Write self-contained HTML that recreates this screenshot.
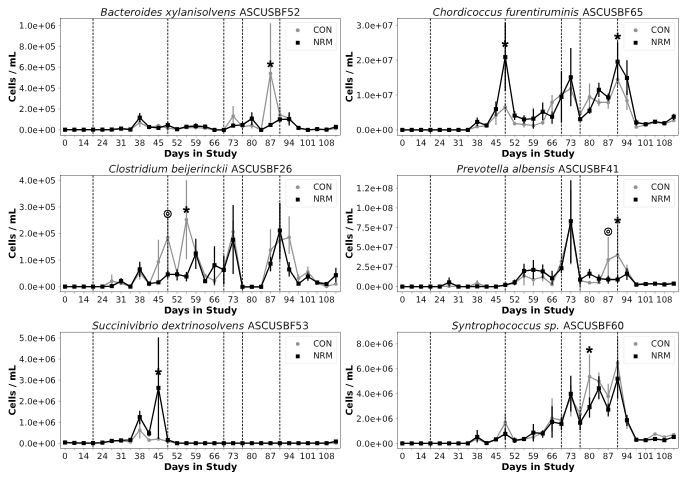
<!DOCTYPE html>
<html lang="en">
<head>
<meta charset="utf-8">
<title>Cells / mL by Days in Study</title>
<style>
html,body{margin:0;padding:0;background:#fff;}
body{width:685px;height:478px;overflow:hidden;}
svg{display:block;text-rendering:geometricPrecision;font-family:"DejaVu Sans","Liberation Sans",sans-serif;}
.vl{stroke:#000;stroke-width:.85;stroke-dasharray:2.3 1.23;}
.ge{stroke:#939393;stroke-width:1.25;}
.be{stroke:#000;stroke-width:1.25;}
.gl{fill:none;stroke:#939393;stroke-width:1.25;stroke-linejoin:round;}
.bl{fill:none;stroke:#000;stroke-width:1.3;stroke-linejoin:round;}
.gm{fill:#939393;}
.bm{fill:#000;}
.fr{fill:none;stroke:#222;stroke-width:.42;}
.tk{stroke:#333;stroke-width:.32;}
.xt{font-size:8.5px;text-anchor:middle;fill:#111;}
.yt{font-size:8.5px;text-anchor:end;fill:#111;}
.ti{font-size:10.3px;text-anchor:middle;fill:#111;}
.it{font-style:italic;font-size:10.4px;}
.xl{font-size:9.45px;font-weight:bold;text-anchor:middle;fill:#000;}
.yl{font-size:9.3px;font-weight:bold;text-anchor:middle;fill:#000;}
.lg{fill:#fff;fill-opacity:.8;stroke:#e2e2e2;stroke-opacity:.9;stroke-width:.6;}
.lt{font-size:8.5px;fill:#111;}
.st{font-family:"Liberation Sans",sans-serif;font-size:18.4px;font-weight:bold;text-anchor:middle;fill:#000;}
.bu{font-size:10.2px;text-anchor:middle;fill:#000;stroke:#000;stroke-width:.38;}
</style>
</head>
<body>
<svg width="685" height="478" viewBox="0 0 685 478">
<rect x="0" y="0" width="685" height="478" fill="#fff"/>
<g>
<line x1="139.75" y1="118.8" x2="139.75" y2="127" class="ge"/>
<line x1="158.43" y1="123.9" x2="158.43" y2="129.5" class="ge"/>
<line x1="167.77" y1="125.7" x2="167.77" y2="130.5" class="ge"/>
<line x1="233.15" y1="106" x2="233.15" y2="127.4" class="ge"/>
<line x1="251.83" y1="122.4" x2="251.83" y2="128.6" class="ge"/>
<line x1="270.5" y1="23.3" x2="270.5" y2="122.4" class="ge"/>
<line x1="279.84" y1="107.3" x2="279.84" y2="122.4" class="ge"/>
<line x1="289.18" y1="113" x2="289.18" y2="123" class="ge"/>
<polyline class="gl" points="65.04,129.8 74.38,129.8 83.72,129.8 93.06,129.8 102.4,129.8 111.74,129.8 121.08,129 130.41,129.7 139.75,122.6 149.09,127.5 158.43,125.7 167.77,128.2 177.11,129.3 186.45,127.4 195.79,127.6 205.13,128.2 214.47,129.9 223.81,129.9 233.15,116.1 242.49,126.6 251.83,125.4 261.17,129.9 270.5,73.4 279.84,114.8 289.18,118.1 298.52,128.2 307.86,129.9 317.2,129.3 326.54,129.7 335.88,128.6"/>
<circle cx="65.04" cy="129.8" r="1.85" class="gm"/>
<circle cx="74.38" cy="129.8" r="1.85" class="gm"/>
<circle cx="83.72" cy="129.8" r="1.85" class="gm"/>
<circle cx="93.06" cy="129.8" r="1.85" class="gm"/>
<circle cx="102.4" cy="129.8" r="1.85" class="gm"/>
<circle cx="111.74" cy="129.8" r="1.85" class="gm"/>
<circle cx="121.08" cy="129" r="1.85" class="gm"/>
<circle cx="130.41" cy="129.7" r="1.85" class="gm"/>
<circle cx="139.75" cy="122.6" r="1.85" class="gm"/>
<circle cx="149.09" cy="127.5" r="1.85" class="gm"/>
<circle cx="158.43" cy="125.7" r="1.85" class="gm"/>
<circle cx="167.77" cy="128.2" r="1.85" class="gm"/>
<circle cx="177.11" cy="129.3" r="1.85" class="gm"/>
<circle cx="186.45" cy="127.4" r="1.85" class="gm"/>
<circle cx="195.79" cy="127.6" r="1.85" class="gm"/>
<circle cx="205.13" cy="128.2" r="1.85" class="gm"/>
<circle cx="214.47" cy="129.9" r="1.85" class="gm"/>
<circle cx="223.81" cy="129.9" r="1.85" class="gm"/>
<circle cx="233.15" cy="116.1" r="1.85" class="gm"/>
<circle cx="242.49" cy="126.6" r="1.85" class="gm"/>
<circle cx="251.83" cy="125.4" r="1.85" class="gm"/>
<circle cx="261.17" cy="129.9" r="1.85" class="gm"/>
<circle cx="270.5" cy="73.4" r="1.85" class="gm"/>
<circle cx="279.84" cy="114.8" r="1.85" class="gm"/>
<circle cx="289.18" cy="118.1" r="1.85" class="gm"/>
<circle cx="298.52" cy="128.2" r="1.85" class="gm"/>
<circle cx="307.86" cy="129.9" r="1.85" class="gm"/>
<circle cx="317.2" cy="129.3" r="1.85" class="gm"/>
<circle cx="326.54" cy="129.7" r="1.85" class="gm"/>
<circle cx="335.88" cy="128.6" r="1.85" class="gm"/>
<line x1="93.06" y1="18.55" x2="93.06" y2="135.25" class="vl"/>
<line x1="167.77" y1="18.55" x2="167.77" y2="135.25" class="vl"/>
<line x1="223.81" y1="18.55" x2="223.81" y2="135.25" class="vl"/>
<line x1="242.49" y1="18.55" x2="242.49" y2="135.25" class="vl"/>
<line x1="279.84" y1="18.55" x2="279.84" y2="135.25" class="vl"/>
<line x1="139.75" y1="112.9" x2="139.75" y2="122" class="be"/>
<line x1="167.77" y1="122.6" x2="167.77" y2="128.2" class="be"/>
<line x1="195.79" y1="123.2" x2="195.79" y2="128.6" class="be"/>
<line x1="251.83" y1="112.3" x2="251.83" y2="124.9" class="be"/>
<line x1="289.18" y1="112.3" x2="289.18" y2="125.4" class="be"/>
<polyline class="bl" points="65.04,129.7 74.38,129.7 83.72,129.7 93.06,129.6 102.4,129.6 111.74,129.5 121.08,128.6 130.41,129.5 139.75,117.6 149.09,127 158.43,127.9 167.77,125.1 177.11,129.2 186.45,126.7 195.79,126 205.13,126.6 214.47,129.9 223.81,129.9 233.15,125.6 242.49,124.9 251.83,118.6 261.17,129.9 270.5,124.9 279.84,119.4 289.18,119.1 298.52,127.9 307.86,129.9 317.2,129.1 326.54,129.6 335.88,126.9"/>
<rect x="62.99" y="127.65" width="4.1" height="4.1" class="bm"/>
<rect x="72.33" y="127.65" width="4.1" height="4.1" class="bm"/>
<rect x="81.67" y="127.65" width="4.1" height="4.1" class="bm"/>
<rect x="91.01" y="127.55" width="4.1" height="4.1" class="bm"/>
<rect x="100.35" y="127.55" width="4.1" height="4.1" class="bm"/>
<rect x="109.69" y="127.45" width="4.1" height="4.1" class="bm"/>
<rect x="119.03" y="126.55" width="4.1" height="4.1" class="bm"/>
<rect x="128.36" y="127.45" width="4.1" height="4.1" class="bm"/>
<rect x="137.7" y="115.55" width="4.1" height="4.1" class="bm"/>
<rect x="147.04" y="124.95" width="4.1" height="4.1" class="bm"/>
<rect x="156.38" y="125.85" width="4.1" height="4.1" class="bm"/>
<rect x="165.72" y="123.05" width="4.1" height="4.1" class="bm"/>
<rect x="175.06" y="127.15" width="4.1" height="4.1" class="bm"/>
<rect x="184.4" y="124.65" width="4.1" height="4.1" class="bm"/>
<rect x="193.74" y="123.95" width="4.1" height="4.1" class="bm"/>
<rect x="203.08" y="124.55" width="4.1" height="4.1" class="bm"/>
<rect x="212.42" y="127.85" width="4.1" height="4.1" class="bm"/>
<rect x="221.76" y="127.85" width="4.1" height="4.1" class="bm"/>
<rect x="231.1" y="123.55" width="4.1" height="4.1" class="bm"/>
<rect x="240.44" y="122.85" width="4.1" height="4.1" class="bm"/>
<rect x="249.78" y="116.55" width="4.1" height="4.1" class="bm"/>
<rect x="259.12" y="127.85" width="4.1" height="4.1" class="bm"/>
<rect x="268.45" y="122.85" width="4.1" height="4.1" class="bm"/>
<rect x="277.79" y="117.35" width="4.1" height="4.1" class="bm"/>
<rect x="287.13" y="117.05" width="4.1" height="4.1" class="bm"/>
<rect x="296.47" y="125.85" width="4.1" height="4.1" class="bm"/>
<rect x="305.81" y="127.85" width="4.1" height="4.1" class="bm"/>
<rect x="315.15" y="127.05" width="4.1" height="4.1" class="bm"/>
<rect x="324.49" y="127.55" width="4.1" height="4.1" class="bm"/>
<rect x="333.83" y="124.85" width="4.1" height="4.1" class="bm"/>
<rect x="60.37" y="18.55" width="280.18" height="116.7" class="fr"/>
<line x1="65.04" y1="135.25" x2="65.04" y2="137.15" class="tk"/>
<line x1="74.38" y1="135.25" x2="74.38" y2="137.15" class="tk"/>
<line x1="83.72" y1="135.25" x2="83.72" y2="137.15" class="tk"/>
<line x1="93.06" y1="135.25" x2="93.06" y2="137.15" class="tk"/>
<line x1="102.4" y1="135.25" x2="102.4" y2="137.15" class="tk"/>
<line x1="111.74" y1="135.25" x2="111.74" y2="137.15" class="tk"/>
<line x1="121.08" y1="135.25" x2="121.08" y2="137.15" class="tk"/>
<line x1="130.41" y1="135.25" x2="130.41" y2="137.15" class="tk"/>
<line x1="139.75" y1="135.25" x2="139.75" y2="137.15" class="tk"/>
<line x1="149.09" y1="135.25" x2="149.09" y2="137.15" class="tk"/>
<line x1="158.43" y1="135.25" x2="158.43" y2="137.15" class="tk"/>
<line x1="167.77" y1="135.25" x2="167.77" y2="137.15" class="tk"/>
<line x1="177.11" y1="135.25" x2="177.11" y2="137.15" class="tk"/>
<line x1="186.45" y1="135.25" x2="186.45" y2="137.15" class="tk"/>
<line x1="195.79" y1="135.25" x2="195.79" y2="137.15" class="tk"/>
<line x1="205.13" y1="135.25" x2="205.13" y2="137.15" class="tk"/>
<line x1="214.47" y1="135.25" x2="214.47" y2="137.15" class="tk"/>
<line x1="223.81" y1="135.25" x2="223.81" y2="137.15" class="tk"/>
<line x1="233.15" y1="135.25" x2="233.15" y2="137.15" class="tk"/>
<line x1="242.49" y1="135.25" x2="242.49" y2="137.15" class="tk"/>
<line x1="251.83" y1="135.25" x2="251.83" y2="137.15" class="tk"/>
<line x1="261.17" y1="135.25" x2="261.17" y2="137.15" class="tk"/>
<line x1="270.5" y1="135.25" x2="270.5" y2="137.15" class="tk"/>
<line x1="279.84" y1="135.25" x2="279.84" y2="137.15" class="tk"/>
<line x1="289.18" y1="135.25" x2="289.18" y2="137.15" class="tk"/>
<line x1="298.52" y1="135.25" x2="298.52" y2="137.15" class="tk"/>
<line x1="307.86" y1="135.25" x2="307.86" y2="137.15" class="tk"/>
<line x1="317.2" y1="135.25" x2="317.2" y2="137.15" class="tk"/>
<line x1="326.54" y1="135.25" x2="326.54" y2="137.15" class="tk"/>
<line x1="335.88" y1="135.25" x2="335.88" y2="137.15" class="tk"/>
<text transform="translate(65.04,145.85) skewY(.04)" class="xt">0</text>
<text transform="translate(83.72,145.85) skewY(.04)" class="xt">14</text>
<text transform="translate(102.4,145.85) skewY(.04)" class="xt">24</text>
<text transform="translate(121.08,145.85) skewY(.04)" class="xt">31</text>
<text transform="translate(139.75,145.85) skewY(.04)" class="xt">38</text>
<text transform="translate(158.43,145.85) skewY(.04)" class="xt">45</text>
<text transform="translate(177.11,145.85) skewY(.04)" class="xt">52</text>
<text transform="translate(195.79,145.85) skewY(.04)" class="xt">59</text>
<text transform="translate(214.47,145.85) skewY(.04)" class="xt">66</text>
<text transform="translate(233.15,145.85) skewY(.04)" class="xt">73</text>
<text transform="translate(251.83,145.85) skewY(.04)" class="xt">80</text>
<text transform="translate(270.5,145.85) skewY(.04)" class="xt">87</text>
<text transform="translate(289.18,145.85) skewY(.04)" class="xt">94</text>
<text transform="translate(307.86,145.85) skewY(.04)" class="xt">101</text>
<text transform="translate(326.54,145.85) skewY(.04)" class="xt">108</text>
<line x1="58.47" y1="129.8" x2="60.37" y2="129.8" class="tk"/>
<text transform="translate(55.77,132.95) skewY(.04)" class="yt">0.0e+00</text>
<line x1="58.47" y1="108.94" x2="60.37" y2="108.94" class="tk"/>
<text transform="translate(55.77,112.09) skewY(.04)" class="yt">2.0e+05</text>
<line x1="58.47" y1="88.08" x2="60.37" y2="88.08" class="tk"/>
<text transform="translate(55.77,91.23) skewY(.04)" class="yt">4.0e+05</text>
<line x1="58.47" y1="67.22" x2="60.37" y2="67.22" class="tk"/>
<text transform="translate(55.77,70.37) skewY(.04)" class="yt">6.0e+05</text>
<line x1="58.47" y1="46.36" x2="60.37" y2="46.36" class="tk"/>
<text transform="translate(55.77,49.51) skewY(.04)" class="yt">8.0e+05</text>
<line x1="58.47" y1="25.5" x2="60.37" y2="25.5" class="tk"/>
<text transform="translate(55.77,28.65) skewY(.04)" class="yt">1.0e+06</text>
<text transform="translate(200.46,15.7) skewY(.04)" class="ti"><tspan class="it">Bacteroides xylanisolvens</tspan> <tspan dx="0.4">ASCUSBF52</tspan></text>
<text transform="translate(200.46,156.85) skewY(.04)" class="xl">Days in Study</text>
<text transform="translate(15.6,76.9) rotate(-90) skewY(.04)" class="yl">Cells / mL</text>
<rect x="285.95" y="22.65" width="50.8" height="27.6" rx="1.6" class="lg"/>
<circle cx="297.75" cy="30.3" r="1.95" class="gm"/>
<rect x="295.8" y="40.8" width="3.9" height="3.9" class="bm"/>
<text transform="translate(313.15,32.8) skewY(.04)" class="lt">CON</text>
<text transform="translate(313.15,45) skewY(.04)" class="lt">NRM</text>
<text transform="translate(270.4,73.3) skewY(.04)" class="st">*</text>
</g>
<g>
<line x1="495.93" y1="108.6" x2="495.93" y2="124.9" class="ge"/>
<line x1="505.28" y1="103.6" x2="505.28" y2="111.1" class="ge"/>
<line x1="524" y1="121.1" x2="524" y2="127.4" class="ge"/>
<line x1="533.36" y1="122.5" x2="533.36" y2="128.8" class="ge"/>
<line x1="542.72" y1="118.7" x2="542.72" y2="125" class="ge"/>
<line x1="552.08" y1="94.9" x2="552.08" y2="111.2" class="ge"/>
<line x1="570.8" y1="81" x2="570.8" y2="96" class="ge"/>
<line x1="589.51" y1="83.5" x2="589.51" y2="109.9" class="ge"/>
<line x1="598.87" y1="98.6" x2="598.87" y2="106.2" class="ge"/>
<line x1="608.23" y1="96.1" x2="608.23" y2="108.7" class="ge"/>
<line x1="617.59" y1="73.5" x2="617.59" y2="86" class="ge"/>
<line x1="626.95" y1="91.1" x2="626.95" y2="109.9" class="ge"/>
<polyline class="gl" points="402.34,129.9 411.7,129.9 421.06,129.9 430.42,129.9 439.77,129.9 449.13,129.9 458.49,129.9 467.85,129.9 477.21,126.6 486.57,125.9 495.93,115.3 505.28,107.3 514.64,123.6 524,124.4 533.36,125.5 542.72,122.5 552.08,102.4 561.44,94.3 570.8,88.6 580.15,113.7 589.51,96.9 598.87,102.4 608.23,102.4 617.59,79.3 626.95,100.6 636.31,127 645.66,125 655.02,122.5 664.38,123.7 673.74,120.5"/>
<circle cx="402.34" cy="129.9" r="1.85" class="gm"/>
<circle cx="411.7" cy="129.9" r="1.85" class="gm"/>
<circle cx="421.06" cy="129.9" r="1.85" class="gm"/>
<circle cx="430.42" cy="129.9" r="1.85" class="gm"/>
<circle cx="439.77" cy="129.9" r="1.85" class="gm"/>
<circle cx="449.13" cy="129.9" r="1.85" class="gm"/>
<circle cx="458.49" cy="129.9" r="1.85" class="gm"/>
<circle cx="467.85" cy="129.9" r="1.85" class="gm"/>
<circle cx="477.21" cy="126.6" r="1.85" class="gm"/>
<circle cx="486.57" cy="125.9" r="1.85" class="gm"/>
<circle cx="495.93" cy="115.3" r="1.85" class="gm"/>
<circle cx="505.28" cy="107.3" r="1.85" class="gm"/>
<circle cx="514.64" cy="123.6" r="1.85" class="gm"/>
<circle cx="524" cy="124.4" r="1.85" class="gm"/>
<circle cx="533.36" cy="125.5" r="1.85" class="gm"/>
<circle cx="542.72" cy="122.5" r="1.85" class="gm"/>
<circle cx="552.08" cy="102.4" r="1.85" class="gm"/>
<circle cx="561.44" cy="94.3" r="1.85" class="gm"/>
<circle cx="570.8" cy="88.6" r="1.85" class="gm"/>
<circle cx="580.15" cy="113.7" r="1.85" class="gm"/>
<circle cx="589.51" cy="96.9" r="1.85" class="gm"/>
<circle cx="598.87" cy="102.4" r="1.85" class="gm"/>
<circle cx="608.23" cy="102.4" r="1.85" class="gm"/>
<circle cx="617.59" cy="79.3" r="1.85" class="gm"/>
<circle cx="626.95" cy="100.6" r="1.85" class="gm"/>
<circle cx="636.31" cy="127" r="1.85" class="gm"/>
<circle cx="645.66" cy="125" r="1.85" class="gm"/>
<circle cx="655.02" cy="122.5" r="1.85" class="gm"/>
<circle cx="664.38" cy="123.7" r="1.85" class="gm"/>
<circle cx="673.74" cy="120.5" r="1.85" class="gm"/>
<line x1="430.42" y1="18.55" x2="430.42" y2="135.25" class="vl"/>
<line x1="505.28" y1="18.55" x2="505.28" y2="135.25" class="vl"/>
<line x1="561.44" y1="18.55" x2="561.44" y2="135.25" class="vl"/>
<line x1="580.15" y1="18.55" x2="580.15" y2="135.25" class="vl"/>
<line x1="617.59" y1="18.55" x2="617.59" y2="135.25" class="vl"/>
<line x1="477.21" y1="117.4" x2="477.21" y2="126.1" class="be"/>
<line x1="495.93" y1="101.5" x2="495.93" y2="116.1" class="be"/>
<line x1="505.28" y1="22.5" x2="505.28" y2="91" class="be"/>
<line x1="514.64" y1="111.1" x2="514.64" y2="119.9" class="be"/>
<line x1="524" y1="115.3" x2="524" y2="123.6" class="be"/>
<line x1="533.36" y1="108.6" x2="533.36" y2="128.6" class="be"/>
<line x1="542.72" y1="102.4" x2="542.72" y2="120" class="be"/>
<line x1="552.08" y1="111.2" x2="552.08" y2="123.7" class="be"/>
<line x1="561.44" y1="71" x2="561.44" y2="122.5" class="be"/>
<line x1="570.8" y1="47.9" x2="570.8" y2="106.2" class="be"/>
<line x1="589.51" y1="107.4" x2="589.51" y2="113.7" class="be"/>
<line x1="598.87" y1="82.8" x2="598.87" y2="96.9" class="be"/>
<line x1="608.23" y1="93.6" x2="608.23" y2="101.1" class="be"/>
<line x1="617.59" y1="42.1" x2="617.59" y2="81" class="be"/>
<line x1="626.95" y1="60.2" x2="626.95" y2="94.9" class="be"/>
<line x1="636.31" y1="119.5" x2="636.31" y2="125.5" class="be"/>
<line x1="673.74" y1="113.7" x2="673.74" y2="120" class="be"/>
<polyline class="bl" points="402.34,129.9 411.7,129.9 421.06,129.9 430.42,129.9 439.77,129.9 449.13,129.9 458.49,129.9 467.85,129.9 477.21,121.9 486.57,125.4 495.93,109.1 505.28,57.1 514.64,115.6 524,119.4 533.36,118.7 542.72,111.7 552.08,116.7 561.44,96.9 570.8,77.3 580.15,119.2 589.51,110.7 598.87,89.8 608.23,97.4 617.59,61.7 626.95,78 636.31,122.5 645.66,124.2 655.02,121.7 664.38,123.2 673.74,116.7"/>
<rect x="400.29" y="127.85" width="4.1" height="4.1" class="bm"/>
<rect x="409.65" y="127.85" width="4.1" height="4.1" class="bm"/>
<rect x="419.01" y="127.85" width="4.1" height="4.1" class="bm"/>
<rect x="428.37" y="127.85" width="4.1" height="4.1" class="bm"/>
<rect x="437.72" y="127.85" width="4.1" height="4.1" class="bm"/>
<rect x="447.08" y="127.85" width="4.1" height="4.1" class="bm"/>
<rect x="456.44" y="127.85" width="4.1" height="4.1" class="bm"/>
<rect x="465.8" y="127.85" width="4.1" height="4.1" class="bm"/>
<rect x="475.16" y="119.85" width="4.1" height="4.1" class="bm"/>
<rect x="484.52" y="123.35" width="4.1" height="4.1" class="bm"/>
<rect x="493.88" y="107.05" width="4.1" height="4.1" class="bm"/>
<rect x="503.23" y="55.05" width="4.1" height="4.1" class="bm"/>
<rect x="512.59" y="113.55" width="4.1" height="4.1" class="bm"/>
<rect x="521.95" y="117.35" width="4.1" height="4.1" class="bm"/>
<rect x="531.31" y="116.65" width="4.1" height="4.1" class="bm"/>
<rect x="540.67" y="109.65" width="4.1" height="4.1" class="bm"/>
<rect x="550.03" y="114.65" width="4.1" height="4.1" class="bm"/>
<rect x="559.39" y="94.85" width="4.1" height="4.1" class="bm"/>
<rect x="568.75" y="75.25" width="4.1" height="4.1" class="bm"/>
<rect x="578.1" y="117.15" width="4.1" height="4.1" class="bm"/>
<rect x="587.46" y="108.65" width="4.1" height="4.1" class="bm"/>
<rect x="596.82" y="87.75" width="4.1" height="4.1" class="bm"/>
<rect x="606.18" y="95.35" width="4.1" height="4.1" class="bm"/>
<rect x="615.54" y="59.65" width="4.1" height="4.1" class="bm"/>
<rect x="624.9" y="75.95" width="4.1" height="4.1" class="bm"/>
<rect x="634.26" y="120.45" width="4.1" height="4.1" class="bm"/>
<rect x="643.61" y="122.15" width="4.1" height="4.1" class="bm"/>
<rect x="652.97" y="119.65" width="4.1" height="4.1" class="bm"/>
<rect x="662.33" y="121.15" width="4.1" height="4.1" class="bm"/>
<rect x="671.69" y="114.65" width="4.1" height="4.1" class="bm"/>
<rect x="397.66" y="18.55" width="280.76" height="116.7" class="fr"/>
<line x1="402.34" y1="135.25" x2="402.34" y2="137.15" class="tk"/>
<line x1="411.7" y1="135.25" x2="411.7" y2="137.15" class="tk"/>
<line x1="421.06" y1="135.25" x2="421.06" y2="137.15" class="tk"/>
<line x1="430.42" y1="135.25" x2="430.42" y2="137.15" class="tk"/>
<line x1="439.77" y1="135.25" x2="439.77" y2="137.15" class="tk"/>
<line x1="449.13" y1="135.25" x2="449.13" y2="137.15" class="tk"/>
<line x1="458.49" y1="135.25" x2="458.49" y2="137.15" class="tk"/>
<line x1="467.85" y1="135.25" x2="467.85" y2="137.15" class="tk"/>
<line x1="477.21" y1="135.25" x2="477.21" y2="137.15" class="tk"/>
<line x1="486.57" y1="135.25" x2="486.57" y2="137.15" class="tk"/>
<line x1="495.93" y1="135.25" x2="495.93" y2="137.15" class="tk"/>
<line x1="505.28" y1="135.25" x2="505.28" y2="137.15" class="tk"/>
<line x1="514.64" y1="135.25" x2="514.64" y2="137.15" class="tk"/>
<line x1="524" y1="135.25" x2="524" y2="137.15" class="tk"/>
<line x1="533.36" y1="135.25" x2="533.36" y2="137.15" class="tk"/>
<line x1="542.72" y1="135.25" x2="542.72" y2="137.15" class="tk"/>
<line x1="552.08" y1="135.25" x2="552.08" y2="137.15" class="tk"/>
<line x1="561.44" y1="135.25" x2="561.44" y2="137.15" class="tk"/>
<line x1="570.8" y1="135.25" x2="570.8" y2="137.15" class="tk"/>
<line x1="580.15" y1="135.25" x2="580.15" y2="137.15" class="tk"/>
<line x1="589.51" y1="135.25" x2="589.51" y2="137.15" class="tk"/>
<line x1="598.87" y1="135.25" x2="598.87" y2="137.15" class="tk"/>
<line x1="608.23" y1="135.25" x2="608.23" y2="137.15" class="tk"/>
<line x1="617.59" y1="135.25" x2="617.59" y2="137.15" class="tk"/>
<line x1="626.95" y1="135.25" x2="626.95" y2="137.15" class="tk"/>
<line x1="636.31" y1="135.25" x2="636.31" y2="137.15" class="tk"/>
<line x1="645.66" y1="135.25" x2="645.66" y2="137.15" class="tk"/>
<line x1="655.02" y1="135.25" x2="655.02" y2="137.15" class="tk"/>
<line x1="664.38" y1="135.25" x2="664.38" y2="137.15" class="tk"/>
<line x1="673.74" y1="135.25" x2="673.74" y2="137.15" class="tk"/>
<text transform="translate(402.34,145.85) skewY(.04)" class="xt">0</text>
<text transform="translate(421.06,145.85) skewY(.04)" class="xt">14</text>
<text transform="translate(439.77,145.85) skewY(.04)" class="xt">24</text>
<text transform="translate(458.49,145.85) skewY(.04)" class="xt">31</text>
<text transform="translate(477.21,145.85) skewY(.04)" class="xt">38</text>
<text transform="translate(495.93,145.85) skewY(.04)" class="xt">45</text>
<text transform="translate(514.64,145.85) skewY(.04)" class="xt">52</text>
<text transform="translate(533.36,145.85) skewY(.04)" class="xt">59</text>
<text transform="translate(552.08,145.85) skewY(.04)" class="xt">66</text>
<text transform="translate(570.8,145.85) skewY(.04)" class="xt">73</text>
<text transform="translate(589.51,145.85) skewY(.04)" class="xt">80</text>
<text transform="translate(608.23,145.85) skewY(.04)" class="xt">87</text>
<text transform="translate(626.95,145.85) skewY(.04)" class="xt">94</text>
<text transform="translate(645.66,145.85) skewY(.04)" class="xt">101</text>
<text transform="translate(664.38,145.85) skewY(.04)" class="xt">108</text>
<line x1="395.76" y1="129.9" x2="397.66" y2="129.9" class="tk"/>
<text transform="translate(393.06,133.05) skewY(.04)" class="yt">0.0e+00</text>
<line x1="395.76" y1="95.03" x2="397.66" y2="95.03" class="tk"/>
<text transform="translate(393.06,98.18) skewY(.04)" class="yt">1.0e+07</text>
<line x1="395.76" y1="60.17" x2="397.66" y2="60.17" class="tk"/>
<text transform="translate(393.06,63.32) skewY(.04)" class="yt">2.0e+07</text>
<line x1="395.76" y1="25.3" x2="397.66" y2="25.3" class="tk"/>
<text transform="translate(393.06,28.45) skewY(.04)" class="yt">3.0e+07</text>
<text transform="translate(538.04,15.7) skewY(.04)" class="ti"><tspan class="it">Chordicoccus furentiruminis</tspan> <tspan dx="0.4">ASCUSBF65</tspan></text>
<text transform="translate(538.04,156.85) skewY(.04)" class="xl">Days in Study</text>
<text transform="translate(352.6,76.9) rotate(-90) skewY(.04)" class="yl">Cells / mL</text>
<rect x="623.82" y="22.65" width="50.8" height="27.6" rx="1.6" class="lg"/>
<circle cx="635.62" cy="30.3" r="1.95" class="gm"/>
<rect x="633.67" y="40.8" width="3.9" height="3.9" class="bm"/>
<text transform="translate(651.02,32.8) skewY(.04)" class="lt">CON</text>
<text transform="translate(651.02,45) skewY(.04)" class="lt">NRM</text>
<text transform="translate(505.18,53) skewY(.04)" class="st">*</text>
<text transform="translate(617.49,45.5) skewY(.04)" class="st">*</text>
</g>
<g>
<line x1="111.74" y1="274.4" x2="111.74" y2="285.6" class="ge"/>
<line x1="139.75" y1="264.3" x2="139.75" y2="279.4" class="ge"/>
<line x1="158.43" y1="239.7" x2="158.43" y2="281.9" class="ge"/>
<line x1="167.77" y1="218.5" x2="167.77" y2="272" class="ge"/>
<line x1="186.45" y1="180.3" x2="186.45" y2="259.3" class="ge"/>
<line x1="214.47" y1="277" x2="214.47" y2="285.8" class="ge"/>
<line x1="233.15" y1="220.5" x2="233.15" y2="246.8" class="ge"/>
<line x1="270.5" y1="229.2" x2="270.5" y2="270.7" class="ge"/>
<line x1="279.84" y1="228" x2="279.84" y2="251.9" class="ge"/>
<line x1="289.18" y1="216.2" x2="289.18" y2="254" class="ge"/>
<line x1="298.52" y1="274.4" x2="298.52" y2="282" class="ge"/>
<line x1="307.86" y1="266.4" x2="307.86" y2="278.2" class="ge"/>
<polyline class="gl" points="65.04,286.6 74.38,286.6 83.72,286.6 93.06,286.6 102.4,286.6 111.74,281.1 121.08,283.1 130.41,286.6 139.75,272.3 149.09,284.4 158.43,261.8 167.77,237.5 177.11,273.1 186.45,219.7 195.79,251.9 205.13,275.7 214.47,280.7 223.81,268.9 233.15,231.8 242.49,286.8 251.83,286.8 261.17,286.8 270.5,250.1 279.84,240.5 289.18,237.3 298.52,278.2 307.86,271.9 317.2,283.2 326.54,286.3 335.88,284"/>
<circle cx="65.04" cy="286.6" r="1.85" class="gm"/>
<circle cx="74.38" cy="286.6" r="1.85" class="gm"/>
<circle cx="83.72" cy="286.6" r="1.85" class="gm"/>
<circle cx="93.06" cy="286.6" r="1.85" class="gm"/>
<circle cx="102.4" cy="286.6" r="1.85" class="gm"/>
<circle cx="111.74" cy="281.1" r="1.85" class="gm"/>
<circle cx="121.08" cy="283.1" r="1.85" class="gm"/>
<circle cx="130.41" cy="286.6" r="1.85" class="gm"/>
<circle cx="139.75" cy="272.3" r="1.85" class="gm"/>
<circle cx="149.09" cy="284.4" r="1.85" class="gm"/>
<circle cx="158.43" cy="261.8" r="1.85" class="gm"/>
<circle cx="167.77" cy="237.5" r="1.85" class="gm"/>
<circle cx="177.11" cy="273.1" r="1.85" class="gm"/>
<circle cx="186.45" cy="219.7" r="1.85" class="gm"/>
<circle cx="195.79" cy="251.9" r="1.85" class="gm"/>
<circle cx="205.13" cy="275.7" r="1.85" class="gm"/>
<circle cx="214.47" cy="280.7" r="1.85" class="gm"/>
<circle cx="223.81" cy="268.9" r="1.85" class="gm"/>
<circle cx="233.15" cy="231.8" r="1.85" class="gm"/>
<circle cx="242.49" cy="286.8" r="1.85" class="gm"/>
<circle cx="251.83" cy="286.8" r="1.85" class="gm"/>
<circle cx="261.17" cy="286.8" r="1.85" class="gm"/>
<circle cx="270.5" cy="250.1" r="1.85" class="gm"/>
<circle cx="279.84" cy="240.5" r="1.85" class="gm"/>
<circle cx="289.18" cy="237.3" r="1.85" class="gm"/>
<circle cx="298.52" cy="278.2" r="1.85" class="gm"/>
<circle cx="307.86" cy="271.9" r="1.85" class="gm"/>
<circle cx="317.2" cy="283.2" r="1.85" class="gm"/>
<circle cx="326.54" cy="286.3" r="1.85" class="gm"/>
<circle cx="335.88" cy="284" r="1.85" class="gm"/>
<line x1="93.06" y1="175.4" x2="93.06" y2="291.85" class="vl"/>
<line x1="167.77" y1="175.4" x2="167.77" y2="291.85" class="vl"/>
<line x1="223.81" y1="175.4" x2="223.81" y2="291.85" class="vl"/>
<line x1="242.49" y1="175.4" x2="242.49" y2="291.85" class="vl"/>
<line x1="279.84" y1="175.4" x2="279.84" y2="291.85" class="vl"/>
<line x1="121.08" y1="278.1" x2="121.08" y2="284.4" class="be"/>
<line x1="139.75" y1="261.8" x2="139.75" y2="276.9" class="be"/>
<line x1="167.77" y1="270.6" x2="167.77" y2="278.1" class="be"/>
<line x1="177.11" y1="269.3" x2="177.11" y2="280.6" class="be"/>
<line x1="186.45" y1="271.9" x2="186.45" y2="281.4" class="be"/>
<line x1="195.79" y1="238.8" x2="195.79" y2="268.9" class="be"/>
<line x1="214.47" y1="246.3" x2="214.47" y2="284.5" class="be"/>
<line x1="223.81" y1="255.6" x2="223.81" y2="284.5" class="be"/>
<line x1="233.15" y1="204.9" x2="233.15" y2="274" class="be"/>
<line x1="270.5" y1="256.9" x2="270.5" y2="271.4" class="be"/>
<line x1="279.84" y1="202.9" x2="279.84" y2="259.4" class="be"/>
<line x1="289.18" y1="261.9" x2="289.18" y2="276.5" class="be"/>
<line x1="307.86" y1="272.4" x2="307.86" y2="280.7" class="be"/>
<line x1="335.88" y1="267.7" x2="335.88" y2="282.5" class="be"/>
<polyline class="bl" points="65.04,286.6 74.38,286.6 83.72,286.6 93.06,286.6 102.4,286.6 111.74,286.1 121.08,281.1 130.41,286.6 139.75,269.3 149.09,283.6 158.43,282.4 167.77,274.4 177.11,274.4 186.45,276.5 195.79,253.6 205.13,281.2 214.47,265.2 223.81,269.9 233.15,239.8 242.49,286.8 251.83,286.8 261.17,286.8 270.5,263.7 279.84,230.5 289.18,269.4 298.52,283.7 307.86,276.5 317.2,282.5 326.54,284 335.88,275.2"/>
<rect x="62.99" y="284.55" width="4.1" height="4.1" class="bm"/>
<rect x="72.33" y="284.55" width="4.1" height="4.1" class="bm"/>
<rect x="81.67" y="284.55" width="4.1" height="4.1" class="bm"/>
<rect x="91.01" y="284.55" width="4.1" height="4.1" class="bm"/>
<rect x="100.35" y="284.55" width="4.1" height="4.1" class="bm"/>
<rect x="109.69" y="284.05" width="4.1" height="4.1" class="bm"/>
<rect x="119.03" y="279.05" width="4.1" height="4.1" class="bm"/>
<rect x="128.36" y="284.55" width="4.1" height="4.1" class="bm"/>
<rect x="137.7" y="267.25" width="4.1" height="4.1" class="bm"/>
<rect x="147.04" y="281.55" width="4.1" height="4.1" class="bm"/>
<rect x="156.38" y="280.35" width="4.1" height="4.1" class="bm"/>
<rect x="165.72" y="272.35" width="4.1" height="4.1" class="bm"/>
<rect x="175.06" y="272.35" width="4.1" height="4.1" class="bm"/>
<rect x="184.4" y="274.45" width="4.1" height="4.1" class="bm"/>
<rect x="193.74" y="251.55" width="4.1" height="4.1" class="bm"/>
<rect x="203.08" y="279.15" width="4.1" height="4.1" class="bm"/>
<rect x="212.42" y="263.15" width="4.1" height="4.1" class="bm"/>
<rect x="221.76" y="267.85" width="4.1" height="4.1" class="bm"/>
<rect x="231.1" y="237.75" width="4.1" height="4.1" class="bm"/>
<rect x="240.44" y="284.75" width="4.1" height="4.1" class="bm"/>
<rect x="249.78" y="284.75" width="4.1" height="4.1" class="bm"/>
<rect x="259.12" y="284.75" width="4.1" height="4.1" class="bm"/>
<rect x="268.45" y="261.65" width="4.1" height="4.1" class="bm"/>
<rect x="277.79" y="228.45" width="4.1" height="4.1" class="bm"/>
<rect x="287.13" y="267.35" width="4.1" height="4.1" class="bm"/>
<rect x="296.47" y="281.65" width="4.1" height="4.1" class="bm"/>
<rect x="305.81" y="274.45" width="4.1" height="4.1" class="bm"/>
<rect x="315.15" y="280.45" width="4.1" height="4.1" class="bm"/>
<rect x="324.49" y="281.95" width="4.1" height="4.1" class="bm"/>
<rect x="333.83" y="273.15" width="4.1" height="4.1" class="bm"/>
<rect x="60.37" y="175.4" width="280.18" height="116.45" class="fr"/>
<line x1="65.04" y1="291.85" x2="65.04" y2="293.75" class="tk"/>
<line x1="74.38" y1="291.85" x2="74.38" y2="293.75" class="tk"/>
<line x1="83.72" y1="291.85" x2="83.72" y2="293.75" class="tk"/>
<line x1="93.06" y1="291.85" x2="93.06" y2="293.75" class="tk"/>
<line x1="102.4" y1="291.85" x2="102.4" y2="293.75" class="tk"/>
<line x1="111.74" y1="291.85" x2="111.74" y2="293.75" class="tk"/>
<line x1="121.08" y1="291.85" x2="121.08" y2="293.75" class="tk"/>
<line x1="130.41" y1="291.85" x2="130.41" y2="293.75" class="tk"/>
<line x1="139.75" y1="291.85" x2="139.75" y2="293.75" class="tk"/>
<line x1="149.09" y1="291.85" x2="149.09" y2="293.75" class="tk"/>
<line x1="158.43" y1="291.85" x2="158.43" y2="293.75" class="tk"/>
<line x1="167.77" y1="291.85" x2="167.77" y2="293.75" class="tk"/>
<line x1="177.11" y1="291.85" x2="177.11" y2="293.75" class="tk"/>
<line x1="186.45" y1="291.85" x2="186.45" y2="293.75" class="tk"/>
<line x1="195.79" y1="291.85" x2="195.79" y2="293.75" class="tk"/>
<line x1="205.13" y1="291.85" x2="205.13" y2="293.75" class="tk"/>
<line x1="214.47" y1="291.85" x2="214.47" y2="293.75" class="tk"/>
<line x1="223.81" y1="291.85" x2="223.81" y2="293.75" class="tk"/>
<line x1="233.15" y1="291.85" x2="233.15" y2="293.75" class="tk"/>
<line x1="242.49" y1="291.85" x2="242.49" y2="293.75" class="tk"/>
<line x1="251.83" y1="291.85" x2="251.83" y2="293.75" class="tk"/>
<line x1="261.17" y1="291.85" x2="261.17" y2="293.75" class="tk"/>
<line x1="270.5" y1="291.85" x2="270.5" y2="293.75" class="tk"/>
<line x1="279.84" y1="291.85" x2="279.84" y2="293.75" class="tk"/>
<line x1="289.18" y1="291.85" x2="289.18" y2="293.75" class="tk"/>
<line x1="298.52" y1="291.85" x2="298.52" y2="293.75" class="tk"/>
<line x1="307.86" y1="291.85" x2="307.86" y2="293.75" class="tk"/>
<line x1="317.2" y1="291.85" x2="317.2" y2="293.75" class="tk"/>
<line x1="326.54" y1="291.85" x2="326.54" y2="293.75" class="tk"/>
<line x1="335.88" y1="291.85" x2="335.88" y2="293.75" class="tk"/>
<text transform="translate(65.04,302.45) skewY(.04)" class="xt">0</text>
<text transform="translate(83.72,302.45) skewY(.04)" class="xt">14</text>
<text transform="translate(102.4,302.45) skewY(.04)" class="xt">24</text>
<text transform="translate(121.08,302.45) skewY(.04)" class="xt">31</text>
<text transform="translate(139.75,302.45) skewY(.04)" class="xt">38</text>
<text transform="translate(158.43,302.45) skewY(.04)" class="xt">45</text>
<text transform="translate(177.11,302.45) skewY(.04)" class="xt">52</text>
<text transform="translate(195.79,302.45) skewY(.04)" class="xt">59</text>
<text transform="translate(214.47,302.45) skewY(.04)" class="xt">66</text>
<text transform="translate(233.15,302.45) skewY(.04)" class="xt">73</text>
<text transform="translate(251.83,302.45) skewY(.04)" class="xt">80</text>
<text transform="translate(270.5,302.45) skewY(.04)" class="xt">87</text>
<text transform="translate(289.18,302.45) skewY(.04)" class="xt">94</text>
<text transform="translate(307.86,302.45) skewY(.04)" class="xt">101</text>
<text transform="translate(326.54,302.45) skewY(.04)" class="xt">108</text>
<line x1="58.47" y1="286.6" x2="60.37" y2="286.6" class="tk"/>
<text transform="translate(55.77,289.75) skewY(.04)" class="yt">0.0e+00</text>
<line x1="58.47" y1="260.03" x2="60.37" y2="260.03" class="tk"/>
<text transform="translate(55.77,263.18) skewY(.04)" class="yt">1.0e+05</text>
<line x1="58.47" y1="233.45" x2="60.37" y2="233.45" class="tk"/>
<text transform="translate(55.77,236.6) skewY(.04)" class="yt">2.0e+05</text>
<line x1="58.47" y1="206.88" x2="60.37" y2="206.88" class="tk"/>
<text transform="translate(55.77,210.03) skewY(.04)" class="yt">3.0e+05</text>
<line x1="58.47" y1="180.3" x2="60.37" y2="180.3" class="tk"/>
<text transform="translate(55.77,183.45) skewY(.04)" class="yt">4.0e+05</text>
<text transform="translate(200.46,172.55) skewY(.04)" class="ti"><tspan class="it">Clostridium beijerinckii</tspan> <tspan dx="0.4">ASCUSBF26</tspan></text>
<text transform="translate(200.46,313.45) skewY(.04)" class="xl">Days in Study</text>
<text transform="translate(15.6,233.62) rotate(-90) skewY(.04)" class="yl">Cells / mL</text>
<rect x="285.95" y="179.5" width="50.8" height="27.6" rx="1.6" class="lg"/>
<circle cx="297.75" cy="187.15" r="1.95" class="gm"/>
<rect x="295.8" y="197.65" width="3.9" height="3.9" class="bm"/>
<text transform="translate(313.15,189.65) skewY(.04)" class="lt">CON</text>
<text transform="translate(313.15,201.85) skewY(.04)" class="lt">NRM</text>
<text transform="translate(186.35,219) skewY(.04)" class="st">*</text>
<text transform="translate(167.77,216.55) skewY(.04)" class="bu">◎</text>
</g>
<g>
<line x1="477.21" y1="279.9" x2="477.21" y2="286.2" class="ge"/>
<line x1="524" y1="268.1" x2="524" y2="285.6" class="ge"/>
<line x1="533.36" y1="273.7" x2="533.36" y2="285.7" class="ge"/>
<line x1="542.72" y1="273.2" x2="542.72" y2="281.5" class="ge"/>
<line x1="561.44" y1="254.4" x2="561.44" y2="269.4" class="ge"/>
<line x1="570.8" y1="190" x2="570.8" y2="264.4" class="ge"/>
<line x1="580.15" y1="275.7" x2="580.15" y2="288" class="ge"/>
<line x1="608.23" y1="236.9" x2="608.23" y2="279" class="ge"/>
<line x1="617.59" y1="223.7" x2="617.59" y2="278.5" class="ge"/>
<line x1="626.95" y1="264.4" x2="626.95" y2="277" class="ge"/>
<polyline class="gl" points="402.34,286.6 411.7,286.6 421.06,286.6 430.42,286.6 439.77,286.6 449.13,286.2 458.49,286.6 467.85,286.6 477.21,283.1 486.57,286.6 495.93,286.6 505.28,285.4 514.64,283.1 524,275.7 533.36,279.5 542.72,277 552.08,284.5 561.44,261.4 570.8,224.2 580.15,280.7 589.51,282.7 598.87,282.5 608.23,259.9 617.59,254.9 626.95,270.7 636.31,285.2 645.66,283.8 655.02,283.5 664.38,283.5 673.74,283.2"/>
<circle cx="402.34" cy="286.6" r="1.85" class="gm"/>
<circle cx="411.7" cy="286.6" r="1.85" class="gm"/>
<circle cx="421.06" cy="286.6" r="1.85" class="gm"/>
<circle cx="430.42" cy="286.6" r="1.85" class="gm"/>
<circle cx="439.77" cy="286.6" r="1.85" class="gm"/>
<circle cx="449.13" cy="286.2" r="1.85" class="gm"/>
<circle cx="458.49" cy="286.6" r="1.85" class="gm"/>
<circle cx="467.85" cy="286.6" r="1.85" class="gm"/>
<circle cx="477.21" cy="283.1" r="1.85" class="gm"/>
<circle cx="486.57" cy="286.6" r="1.85" class="gm"/>
<circle cx="495.93" cy="286.6" r="1.85" class="gm"/>
<circle cx="505.28" cy="285.4" r="1.85" class="gm"/>
<circle cx="514.64" cy="283.1" r="1.85" class="gm"/>
<circle cx="524" cy="275.7" r="1.85" class="gm"/>
<circle cx="533.36" cy="279.5" r="1.85" class="gm"/>
<circle cx="542.72" cy="277" r="1.85" class="gm"/>
<circle cx="552.08" cy="284.5" r="1.85" class="gm"/>
<circle cx="561.44" cy="261.4" r="1.85" class="gm"/>
<circle cx="570.8" cy="224.2" r="1.85" class="gm"/>
<circle cx="580.15" cy="280.7" r="1.85" class="gm"/>
<circle cx="589.51" cy="282.7" r="1.85" class="gm"/>
<circle cx="598.87" cy="282.5" r="1.85" class="gm"/>
<circle cx="608.23" cy="259.9" r="1.85" class="gm"/>
<circle cx="617.59" cy="254.9" r="1.85" class="gm"/>
<circle cx="626.95" cy="270.7" r="1.85" class="gm"/>
<circle cx="636.31" cy="285.2" r="1.85" class="gm"/>
<circle cx="645.66" cy="283.8" r="1.85" class="gm"/>
<circle cx="655.02" cy="283.5" r="1.85" class="gm"/>
<circle cx="664.38" cy="283.5" r="1.85" class="gm"/>
<circle cx="673.74" cy="283.2" r="1.85" class="gm"/>
<line x1="430.42" y1="175.4" x2="430.42" y2="291.85" class="vl"/>
<line x1="505.28" y1="175.4" x2="505.28" y2="291.85" class="vl"/>
<line x1="561.44" y1="175.4" x2="561.44" y2="291.85" class="vl"/>
<line x1="580.15" y1="175.4" x2="580.15" y2="291.85" class="vl"/>
<line x1="617.59" y1="175.4" x2="617.59" y2="291.85" class="vl"/>
<line x1="449.13" y1="277.4" x2="449.13" y2="286.4" class="be"/>
<line x1="514.64" y1="279.4" x2="514.64" y2="285.2" class="be"/>
<line x1="524" y1="263.8" x2="524" y2="277.4" class="be"/>
<line x1="533.36" y1="259.9" x2="533.36" y2="279" class="be"/>
<line x1="542.72" y1="264.4" x2="542.72" y2="278.2" class="be"/>
<line x1="552.08" y1="270.7" x2="552.08" y2="284.5" class="be"/>
<line x1="561.44" y1="263.2" x2="561.44" y2="273.2" class="be"/>
<line x1="570.8" y1="180.3" x2="570.8" y2="263.2" class="be"/>
<line x1="580.15" y1="274.5" x2="580.15" y2="284.5" class="be"/>
<line x1="589.51" y1="268.9" x2="589.51" y2="278.2" class="be"/>
<line x1="598.87" y1="274.5" x2="598.87" y2="283.2" class="be"/>
<line x1="608.23" y1="275.7" x2="608.23" y2="283.7" class="be"/>
<line x1="617.59" y1="275.7" x2="617.59" y2="283.2" class="be"/>
<line x1="626.95" y1="268.2" x2="626.95" y2="280" class="be"/>
<polyline class="bl" points="402.34,286.6 411.7,286.6 421.06,286.6 430.42,286.6 439.77,286.6 449.13,282.4 458.49,286.6 467.85,286.6 477.21,286.4 486.57,286.6 495.93,286.6 505.28,284.9 514.64,282.4 524,271 533.36,269.9 542.72,271.4 552.08,278.2 561.44,268.2 570.8,221.2 580.15,279.5 589.51,273.7 598.87,278.7 608.23,279.5 617.59,279.5 626.95,273.7 636.31,284.5 645.66,284 655.02,283.7 664.38,284.5 673.74,283.7"/>
<rect x="400.29" y="284.55" width="4.1" height="4.1" class="bm"/>
<rect x="409.65" y="284.55" width="4.1" height="4.1" class="bm"/>
<rect x="419.01" y="284.55" width="4.1" height="4.1" class="bm"/>
<rect x="428.37" y="284.55" width="4.1" height="4.1" class="bm"/>
<rect x="437.72" y="284.55" width="4.1" height="4.1" class="bm"/>
<rect x="447.08" y="280.35" width="4.1" height="4.1" class="bm"/>
<rect x="456.44" y="284.55" width="4.1" height="4.1" class="bm"/>
<rect x="465.8" y="284.55" width="4.1" height="4.1" class="bm"/>
<rect x="475.16" y="284.35" width="4.1" height="4.1" class="bm"/>
<rect x="484.52" y="284.55" width="4.1" height="4.1" class="bm"/>
<rect x="493.88" y="284.55" width="4.1" height="4.1" class="bm"/>
<rect x="503.23" y="282.85" width="4.1" height="4.1" class="bm"/>
<rect x="512.59" y="280.35" width="4.1" height="4.1" class="bm"/>
<rect x="521.95" y="268.95" width="4.1" height="4.1" class="bm"/>
<rect x="531.31" y="267.85" width="4.1" height="4.1" class="bm"/>
<rect x="540.67" y="269.35" width="4.1" height="4.1" class="bm"/>
<rect x="550.03" y="276.15" width="4.1" height="4.1" class="bm"/>
<rect x="559.39" y="266.15" width="4.1" height="4.1" class="bm"/>
<rect x="568.75" y="219.15" width="4.1" height="4.1" class="bm"/>
<rect x="578.1" y="277.45" width="4.1" height="4.1" class="bm"/>
<rect x="587.46" y="271.65" width="4.1" height="4.1" class="bm"/>
<rect x="596.82" y="276.65" width="4.1" height="4.1" class="bm"/>
<rect x="606.18" y="277.45" width="4.1" height="4.1" class="bm"/>
<rect x="615.54" y="277.45" width="4.1" height="4.1" class="bm"/>
<rect x="624.9" y="271.65" width="4.1" height="4.1" class="bm"/>
<rect x="634.26" y="282.45" width="4.1" height="4.1" class="bm"/>
<rect x="643.61" y="281.95" width="4.1" height="4.1" class="bm"/>
<rect x="652.97" y="281.65" width="4.1" height="4.1" class="bm"/>
<rect x="662.33" y="282.45" width="4.1" height="4.1" class="bm"/>
<rect x="671.69" y="281.65" width="4.1" height="4.1" class="bm"/>
<rect x="397.66" y="175.4" width="280.76" height="116.45" class="fr"/>
<line x1="402.34" y1="291.85" x2="402.34" y2="293.75" class="tk"/>
<line x1="411.7" y1="291.85" x2="411.7" y2="293.75" class="tk"/>
<line x1="421.06" y1="291.85" x2="421.06" y2="293.75" class="tk"/>
<line x1="430.42" y1="291.85" x2="430.42" y2="293.75" class="tk"/>
<line x1="439.77" y1="291.85" x2="439.77" y2="293.75" class="tk"/>
<line x1="449.13" y1="291.85" x2="449.13" y2="293.75" class="tk"/>
<line x1="458.49" y1="291.85" x2="458.49" y2="293.75" class="tk"/>
<line x1="467.85" y1="291.85" x2="467.85" y2="293.75" class="tk"/>
<line x1="477.21" y1="291.85" x2="477.21" y2="293.75" class="tk"/>
<line x1="486.57" y1="291.85" x2="486.57" y2="293.75" class="tk"/>
<line x1="495.93" y1="291.85" x2="495.93" y2="293.75" class="tk"/>
<line x1="505.28" y1="291.85" x2="505.28" y2="293.75" class="tk"/>
<line x1="514.64" y1="291.85" x2="514.64" y2="293.75" class="tk"/>
<line x1="524" y1="291.85" x2="524" y2="293.75" class="tk"/>
<line x1="533.36" y1="291.85" x2="533.36" y2="293.75" class="tk"/>
<line x1="542.72" y1="291.85" x2="542.72" y2="293.75" class="tk"/>
<line x1="552.08" y1="291.85" x2="552.08" y2="293.75" class="tk"/>
<line x1="561.44" y1="291.85" x2="561.44" y2="293.75" class="tk"/>
<line x1="570.8" y1="291.85" x2="570.8" y2="293.75" class="tk"/>
<line x1="580.15" y1="291.85" x2="580.15" y2="293.75" class="tk"/>
<line x1="589.51" y1="291.85" x2="589.51" y2="293.75" class="tk"/>
<line x1="598.87" y1="291.85" x2="598.87" y2="293.75" class="tk"/>
<line x1="608.23" y1="291.85" x2="608.23" y2="293.75" class="tk"/>
<line x1="617.59" y1="291.85" x2="617.59" y2="293.75" class="tk"/>
<line x1="626.95" y1="291.85" x2="626.95" y2="293.75" class="tk"/>
<line x1="636.31" y1="291.85" x2="636.31" y2="293.75" class="tk"/>
<line x1="645.66" y1="291.85" x2="645.66" y2="293.75" class="tk"/>
<line x1="655.02" y1="291.85" x2="655.02" y2="293.75" class="tk"/>
<line x1="664.38" y1="291.85" x2="664.38" y2="293.75" class="tk"/>
<line x1="673.74" y1="291.85" x2="673.74" y2="293.75" class="tk"/>
<text transform="translate(402.34,302.45) skewY(.04)" class="xt">0</text>
<text transform="translate(421.06,302.45) skewY(.04)" class="xt">14</text>
<text transform="translate(439.77,302.45) skewY(.04)" class="xt">24</text>
<text transform="translate(458.49,302.45) skewY(.04)" class="xt">31</text>
<text transform="translate(477.21,302.45) skewY(.04)" class="xt">38</text>
<text transform="translate(495.93,302.45) skewY(.04)" class="xt">45</text>
<text transform="translate(514.64,302.45) skewY(.04)" class="xt">52</text>
<text transform="translate(533.36,302.45) skewY(.04)" class="xt">59</text>
<text transform="translate(552.08,302.45) skewY(.04)" class="xt">66</text>
<text transform="translate(570.8,302.45) skewY(.04)" class="xt">73</text>
<text transform="translate(589.51,302.45) skewY(.04)" class="xt">80</text>
<text transform="translate(608.23,302.45) skewY(.04)" class="xt">87</text>
<text transform="translate(626.95,302.45) skewY(.04)" class="xt">94</text>
<text transform="translate(645.66,302.45) skewY(.04)" class="xt">101</text>
<text transform="translate(664.38,302.45) skewY(.04)" class="xt">108</text>
<line x1="395.76" y1="286.5" x2="397.66" y2="286.5" class="tk"/>
<text transform="translate(393.06,289.65) skewY(.04)" class="yt">0.0e+00</text>
<line x1="395.76" y1="266.84" x2="397.66" y2="266.84" class="tk"/>
<text transform="translate(393.06,269.99) skewY(.04)" class="yt">2.5e+07</text>
<line x1="395.76" y1="247.18" x2="397.66" y2="247.18" class="tk"/>
<text transform="translate(393.06,250.33) skewY(.04)" class="yt">5.0e+07</text>
<line x1="395.76" y1="227.52" x2="397.66" y2="227.52" class="tk"/>
<text transform="translate(393.06,230.67) skewY(.04)" class="yt">7.5e+07</text>
<line x1="395.76" y1="207.86" x2="397.66" y2="207.86" class="tk"/>
<text transform="translate(393.06,211.01) skewY(.04)" class="yt">1.0e+08</text>
<line x1="395.76" y1="188.2" x2="397.66" y2="188.2" class="tk"/>
<text transform="translate(393.06,191.35) skewY(.04)" class="yt">1.2e+08</text>
<text transform="translate(538.04,172.55) skewY(.04)" class="ti"><tspan class="it">Prevotella albensis</tspan> <tspan dx="0.4">ASCUSBF41</tspan></text>
<text transform="translate(538.04,313.45) skewY(.04)" class="xl">Days in Study</text>
<text transform="translate(352.6,233.62) rotate(-90) skewY(.04)" class="yl">Cells / mL</text>
<rect x="623.82" y="179.5" width="50.8" height="27.6" rx="1.6" class="lg"/>
<circle cx="635.62" cy="187.15" r="1.95" class="gm"/>
<rect x="633.67" y="197.65" width="3.9" height="3.9" class="bm"/>
<text transform="translate(651.02,189.65) skewY(.04)" class="lt">CON</text>
<text transform="translate(651.02,201.85) skewY(.04)" class="lt">NRM</text>
<text transform="translate(617.49,229.4) skewY(.04)" class="st">*</text>
<text transform="translate(608.23,234.2) skewY(.04)" class="bu">◎</text>
</g>
<g>
<line x1="139.75" y1="422.6" x2="139.75" y2="438.4" class="ge"/>
<polyline class="gl" points="65.04,442.3 74.38,443 83.72,443.2 93.06,443.2 102.4,442.8 111.74,441.4 121.08,440.9 130.41,441.9 139.75,430.1 149.09,440.1 158.43,438.9 167.77,441.4 177.11,443.3 186.45,443.3 195.79,443.3 205.13,443.3 214.47,443.3 223.81,443.3 233.15,443.3 242.49,443.3 251.83,443.3 261.17,443.3 270.5,443.3 279.84,443.3 289.18,443.3 298.52,443.3 307.86,443.3 317.2,443.3 326.54,443.3 335.88,443"/>
<circle cx="65.04" cy="442.3" r="1.85" class="gm"/>
<circle cx="74.38" cy="443" r="1.85" class="gm"/>
<circle cx="83.72" cy="443.2" r="1.85" class="gm"/>
<circle cx="93.06" cy="443.2" r="1.85" class="gm"/>
<circle cx="102.4" cy="442.8" r="1.85" class="gm"/>
<circle cx="111.74" cy="441.4" r="1.85" class="gm"/>
<circle cx="121.08" cy="440.9" r="1.85" class="gm"/>
<circle cx="130.41" cy="441.9" r="1.85" class="gm"/>
<circle cx="139.75" cy="430.1" r="1.85" class="gm"/>
<circle cx="149.09" cy="440.1" r="1.85" class="gm"/>
<circle cx="158.43" cy="438.9" r="1.85" class="gm"/>
<circle cx="167.77" cy="441.4" r="1.85" class="gm"/>
<circle cx="177.11" cy="443.3" r="1.85" class="gm"/>
<circle cx="186.45" cy="443.3" r="1.85" class="gm"/>
<circle cx="195.79" cy="443.3" r="1.85" class="gm"/>
<circle cx="205.13" cy="443.3" r="1.85" class="gm"/>
<circle cx="214.47" cy="443.3" r="1.85" class="gm"/>
<circle cx="223.81" cy="443.3" r="1.85" class="gm"/>
<circle cx="233.15" cy="443.3" r="1.85" class="gm"/>
<circle cx="242.49" cy="443.3" r="1.85" class="gm"/>
<circle cx="251.83" cy="443.3" r="1.85" class="gm"/>
<circle cx="261.17" cy="443.3" r="1.85" class="gm"/>
<circle cx="270.5" cy="443.3" r="1.85" class="gm"/>
<circle cx="279.84" cy="443.3" r="1.85" class="gm"/>
<circle cx="289.18" cy="443.3" r="1.85" class="gm"/>
<circle cx="298.52" cy="443.3" r="1.85" class="gm"/>
<circle cx="307.86" cy="443.3" r="1.85" class="gm"/>
<circle cx="317.2" cy="443.3" r="1.85" class="gm"/>
<circle cx="326.54" cy="443.3" r="1.85" class="gm"/>
<circle cx="335.88" cy="443" r="1.85" class="gm"/>
<line x1="93.06" y1="332.15" x2="93.06" y2="448.45" class="vl"/>
<line x1="167.77" y1="332.15" x2="167.77" y2="448.45" class="vl"/>
<line x1="223.81" y1="332.15" x2="223.81" y2="448.45" class="vl"/>
<line x1="242.49" y1="332.15" x2="242.49" y2="448.45" class="vl"/>
<line x1="279.84" y1="332.15" x2="279.84" y2="448.45" class="vl"/>
<line x1="139.75" y1="410.8" x2="139.75" y2="424.3" class="be"/>
<line x1="149.09" y1="430.1" x2="149.09" y2="436.4" class="be"/>
<line x1="158.43" y1="337.3" x2="158.43" y2="438.9" class="be"/>
<polyline class="bl" points="65.04,442.5 74.38,442.9 83.72,443.1 93.06,443.1 102.4,442.6 111.74,440.9 121.08,440.4 130.41,439.9 139.75,417.1 149.09,433.4 158.43,387.9 167.77,439.9 177.11,443.2 186.45,443.2 195.79,443.2 205.13,443.2 214.47,443.2 223.81,443.2 233.15,443.2 242.49,443.2 251.83,443.2 261.17,443.2 270.5,443.2 279.84,443.2 289.18,443.2 298.52,443.2 307.86,443.2 317.2,443.2 326.54,443.2 335.88,441.5"/>
<rect x="62.99" y="440.45" width="4.1" height="4.1" class="bm"/>
<rect x="72.33" y="440.85" width="4.1" height="4.1" class="bm"/>
<rect x="81.67" y="441.05" width="4.1" height="4.1" class="bm"/>
<rect x="91.01" y="441.05" width="4.1" height="4.1" class="bm"/>
<rect x="100.35" y="440.55" width="4.1" height="4.1" class="bm"/>
<rect x="109.69" y="438.85" width="4.1" height="4.1" class="bm"/>
<rect x="119.03" y="438.35" width="4.1" height="4.1" class="bm"/>
<rect x="128.36" y="437.85" width="4.1" height="4.1" class="bm"/>
<rect x="137.7" y="415.05" width="4.1" height="4.1" class="bm"/>
<rect x="147.04" y="431.35" width="4.1" height="4.1" class="bm"/>
<rect x="156.38" y="385.85" width="4.1" height="4.1" class="bm"/>
<rect x="165.72" y="437.85" width="4.1" height="4.1" class="bm"/>
<rect x="175.06" y="441.15" width="4.1" height="4.1" class="bm"/>
<rect x="184.4" y="441.15" width="4.1" height="4.1" class="bm"/>
<rect x="193.74" y="441.15" width="4.1" height="4.1" class="bm"/>
<rect x="203.08" y="441.15" width="4.1" height="4.1" class="bm"/>
<rect x="212.42" y="441.15" width="4.1" height="4.1" class="bm"/>
<rect x="221.76" y="441.15" width="4.1" height="4.1" class="bm"/>
<rect x="231.1" y="441.15" width="4.1" height="4.1" class="bm"/>
<rect x="240.44" y="441.15" width="4.1" height="4.1" class="bm"/>
<rect x="249.78" y="441.15" width="4.1" height="4.1" class="bm"/>
<rect x="259.12" y="441.15" width="4.1" height="4.1" class="bm"/>
<rect x="268.45" y="441.15" width="4.1" height="4.1" class="bm"/>
<rect x="277.79" y="441.15" width="4.1" height="4.1" class="bm"/>
<rect x="287.13" y="441.15" width="4.1" height="4.1" class="bm"/>
<rect x="296.47" y="441.15" width="4.1" height="4.1" class="bm"/>
<rect x="305.81" y="441.15" width="4.1" height="4.1" class="bm"/>
<rect x="315.15" y="441.15" width="4.1" height="4.1" class="bm"/>
<rect x="324.49" y="441.15" width="4.1" height="4.1" class="bm"/>
<rect x="333.83" y="439.45" width="4.1" height="4.1" class="bm"/>
<rect x="60.37" y="332.15" width="280.18" height="116.3" class="fr"/>
<line x1="65.04" y1="448.45" x2="65.04" y2="450.35" class="tk"/>
<line x1="74.38" y1="448.45" x2="74.38" y2="450.35" class="tk"/>
<line x1="83.72" y1="448.45" x2="83.72" y2="450.35" class="tk"/>
<line x1="93.06" y1="448.45" x2="93.06" y2="450.35" class="tk"/>
<line x1="102.4" y1="448.45" x2="102.4" y2="450.35" class="tk"/>
<line x1="111.74" y1="448.45" x2="111.74" y2="450.35" class="tk"/>
<line x1="121.08" y1="448.45" x2="121.08" y2="450.35" class="tk"/>
<line x1="130.41" y1="448.45" x2="130.41" y2="450.35" class="tk"/>
<line x1="139.75" y1="448.45" x2="139.75" y2="450.35" class="tk"/>
<line x1="149.09" y1="448.45" x2="149.09" y2="450.35" class="tk"/>
<line x1="158.43" y1="448.45" x2="158.43" y2="450.35" class="tk"/>
<line x1="167.77" y1="448.45" x2="167.77" y2="450.35" class="tk"/>
<line x1="177.11" y1="448.45" x2="177.11" y2="450.35" class="tk"/>
<line x1="186.45" y1="448.45" x2="186.45" y2="450.35" class="tk"/>
<line x1="195.79" y1="448.45" x2="195.79" y2="450.35" class="tk"/>
<line x1="205.13" y1="448.45" x2="205.13" y2="450.35" class="tk"/>
<line x1="214.47" y1="448.45" x2="214.47" y2="450.35" class="tk"/>
<line x1="223.81" y1="448.45" x2="223.81" y2="450.35" class="tk"/>
<line x1="233.15" y1="448.45" x2="233.15" y2="450.35" class="tk"/>
<line x1="242.49" y1="448.45" x2="242.49" y2="450.35" class="tk"/>
<line x1="251.83" y1="448.45" x2="251.83" y2="450.35" class="tk"/>
<line x1="261.17" y1="448.45" x2="261.17" y2="450.35" class="tk"/>
<line x1="270.5" y1="448.45" x2="270.5" y2="450.35" class="tk"/>
<line x1="279.84" y1="448.45" x2="279.84" y2="450.35" class="tk"/>
<line x1="289.18" y1="448.45" x2="289.18" y2="450.35" class="tk"/>
<line x1="298.52" y1="448.45" x2="298.52" y2="450.35" class="tk"/>
<line x1="307.86" y1="448.45" x2="307.86" y2="450.35" class="tk"/>
<line x1="317.2" y1="448.45" x2="317.2" y2="450.35" class="tk"/>
<line x1="326.54" y1="448.45" x2="326.54" y2="450.35" class="tk"/>
<line x1="335.88" y1="448.45" x2="335.88" y2="450.35" class="tk"/>
<text transform="translate(65.04,459.05) skewY(.04)" class="xt">0</text>
<text transform="translate(83.72,459.05) skewY(.04)" class="xt">14</text>
<text transform="translate(102.4,459.05) skewY(.04)" class="xt">24</text>
<text transform="translate(121.08,459.05) skewY(.04)" class="xt">31</text>
<text transform="translate(139.75,459.05) skewY(.04)" class="xt">38</text>
<text transform="translate(158.43,459.05) skewY(.04)" class="xt">45</text>
<text transform="translate(177.11,459.05) skewY(.04)" class="xt">52</text>
<text transform="translate(195.79,459.05) skewY(.04)" class="xt">59</text>
<text transform="translate(214.47,459.05) skewY(.04)" class="xt">66</text>
<text transform="translate(233.15,459.05) skewY(.04)" class="xt">73</text>
<text transform="translate(251.83,459.05) skewY(.04)" class="xt">80</text>
<text transform="translate(270.5,459.05) skewY(.04)" class="xt">87</text>
<text transform="translate(289.18,459.05) skewY(.04)" class="xt">94</text>
<text transform="translate(307.86,459.05) skewY(.04)" class="xt">101</text>
<text transform="translate(326.54,459.05) skewY(.04)" class="xt">108</text>
<line x1="58.47" y1="443.4" x2="60.37" y2="443.4" class="tk"/>
<text transform="translate(55.77,446.55) skewY(.04)" class="yt">0.0e+00</text>
<line x1="58.47" y1="422.32" x2="60.37" y2="422.32" class="tk"/>
<text transform="translate(55.77,425.47) skewY(.04)" class="yt">1.0e+06</text>
<line x1="58.47" y1="401.24" x2="60.37" y2="401.24" class="tk"/>
<text transform="translate(55.77,404.39) skewY(.04)" class="yt">2.0e+06</text>
<line x1="58.47" y1="380.16" x2="60.37" y2="380.16" class="tk"/>
<text transform="translate(55.77,383.31) skewY(.04)" class="yt">3.0e+06</text>
<line x1="58.47" y1="359.08" x2="60.37" y2="359.08" class="tk"/>
<text transform="translate(55.77,362.23) skewY(.04)" class="yt">4.0e+06</text>
<line x1="58.47" y1="338" x2="60.37" y2="338" class="tk"/>
<text transform="translate(55.77,341.15) skewY(.04)" class="yt">5.0e+06</text>
<text transform="translate(200.46,329.3) skewY(.04)" class="ti"><tspan class="it">Succinivibrio dextrinosolvens</tspan> <tspan dx="0.4">ASCUSBF53</tspan></text>
<text transform="translate(200.46,470.05) skewY(.04)" class="xl">Days in Study</text>
<text transform="translate(15.6,390.3) rotate(-90) skewY(.04)" class="yl">Cells / mL</text>
<rect x="285.95" y="336.25" width="50.8" height="27.6" rx="1.6" class="lg"/>
<circle cx="297.75" cy="343.9" r="1.95" class="gm"/>
<rect x="295.8" y="354.4" width="3.9" height="3.9" class="bm"/>
<text transform="translate(313.15,346.4) skewY(.04)" class="lt">CON</text>
<text transform="translate(313.15,358.6) skewY(.04)" class="lt">NRM</text>
<text transform="translate(158.33,381) skewY(.04)" class="st">*</text>
</g>
<g>
<line x1="505.28" y1="413.8" x2="505.28" y2="433.9" class="ge"/>
<line x1="533.36" y1="434" x2="533.36" y2="440.2" class="ge"/>
<line x1="552.08" y1="398.3" x2="552.08" y2="431.5" class="ge"/>
<line x1="561.44" y1="415.1" x2="561.44" y2="425.2" class="ge"/>
<line x1="570.8" y1="385" x2="570.8" y2="416.4" class="ge"/>
<line x1="580.15" y1="406.3" x2="580.15" y2="421.4" class="ge"/>
<line x1="589.51" y1="354.5" x2="589.51" y2="403.8" class="ge"/>
<line x1="598.87" y1="372.4" x2="598.87" y2="390" class="ge"/>
<line x1="608.23" y1="383.7" x2="608.23" y2="407.6" class="ge"/>
<line x1="617.59" y1="337.7" x2="617.59" y2="388" class="ge"/>
<line x1="626.95" y1="416.4" x2="626.95" y2="429" class="ge"/>
<polyline class="gl" points="402.34,443.4 411.7,443.4 421.06,443.4 430.42,443.4 439.77,443.4 449.13,443.4 458.49,443.4 467.85,443.4 477.21,438.9 486.57,443.1 495.93,439.4 505.28,422.6 514.64,440.9 524,439.4 533.36,437 542.72,432.7 552.08,418.1 561.44,420.2 570.8,397.5 580.15,413.9 589.51,376.7 598.87,381.2 608.23,396.3 617.59,362.9 626.95,421.9 636.31,440.2 645.66,439.7 655.02,434 664.38,437 673.74,434.5"/>
<circle cx="402.34" cy="443.4" r="1.85" class="gm"/>
<circle cx="411.7" cy="443.4" r="1.85" class="gm"/>
<circle cx="421.06" cy="443.4" r="1.85" class="gm"/>
<circle cx="430.42" cy="443.4" r="1.85" class="gm"/>
<circle cx="439.77" cy="443.4" r="1.85" class="gm"/>
<circle cx="449.13" cy="443.4" r="1.85" class="gm"/>
<circle cx="458.49" cy="443.4" r="1.85" class="gm"/>
<circle cx="467.85" cy="443.4" r="1.85" class="gm"/>
<circle cx="477.21" cy="438.9" r="1.85" class="gm"/>
<circle cx="486.57" cy="443.1" r="1.85" class="gm"/>
<circle cx="495.93" cy="439.4" r="1.85" class="gm"/>
<circle cx="505.28" cy="422.6" r="1.85" class="gm"/>
<circle cx="514.64" cy="440.9" r="1.85" class="gm"/>
<circle cx="524" cy="439.4" r="1.85" class="gm"/>
<circle cx="533.36" cy="437" r="1.85" class="gm"/>
<circle cx="542.72" cy="432.7" r="1.85" class="gm"/>
<circle cx="552.08" cy="418.1" r="1.85" class="gm"/>
<circle cx="561.44" cy="420.2" r="1.85" class="gm"/>
<circle cx="570.8" cy="397.5" r="1.85" class="gm"/>
<circle cx="580.15" cy="413.9" r="1.85" class="gm"/>
<circle cx="589.51" cy="376.7" r="1.85" class="gm"/>
<circle cx="598.87" cy="381.2" r="1.85" class="gm"/>
<circle cx="608.23" cy="396.3" r="1.85" class="gm"/>
<circle cx="617.59" cy="362.9" r="1.85" class="gm"/>
<circle cx="626.95" cy="421.9" r="1.85" class="gm"/>
<circle cx="636.31" cy="440.2" r="1.85" class="gm"/>
<circle cx="645.66" cy="439.7" r="1.85" class="gm"/>
<circle cx="655.02" cy="434" r="1.85" class="gm"/>
<circle cx="664.38" cy="437" r="1.85" class="gm"/>
<circle cx="673.74" cy="434.5" r="1.85" class="gm"/>
<line x1="430.42" y1="332.15" x2="430.42" y2="448.45" class="vl"/>
<line x1="505.28" y1="332.15" x2="505.28" y2="448.45" class="vl"/>
<line x1="561.44" y1="332.15" x2="561.44" y2="448.45" class="vl"/>
<line x1="580.15" y1="332.15" x2="580.15" y2="448.45" class="vl"/>
<line x1="617.59" y1="332.15" x2="617.59" y2="448.45" class="vl"/>
<line x1="477.21" y1="430.1" x2="477.21" y2="442.6" class="be"/>
<line x1="505.28" y1="428.8" x2="505.28" y2="439.4" class="be"/>
<line x1="514.64" y1="437.6" x2="514.64" y2="442.9" class="be"/>
<line x1="533.36" y1="423.9" x2="533.36" y2="441.5" class="be"/>
<line x1="542.72" y1="430.2" x2="542.72" y2="437.7" class="be"/>
<line x1="552.08" y1="406.3" x2="552.08" y2="437.7" class="be"/>
<line x1="561.44" y1="417.6" x2="561.44" y2="430.2" class="be"/>
<line x1="570.8" y1="375.7" x2="570.8" y2="411.4" class="be"/>
<line x1="580.15" y1="415.1" x2="580.15" y2="430.2" class="be"/>
<line x1="589.51" y1="397.5" x2="589.51" y2="417.6" class="be"/>
<line x1="598.87" y1="376.2" x2="598.87" y2="399.3" class="be"/>
<line x1="608.23" y1="403.8" x2="608.23" y2="416.4" class="be"/>
<line x1="617.59" y1="359.9" x2="617.59" y2="398.8" class="be"/>
<line x1="626.95" y1="415.1" x2="626.95" y2="425.9" class="be"/>
<polyline class="bl" points="402.34,443.4 411.7,443.4 421.06,443.4 430.42,443.4 439.77,443.4 449.13,443.4 458.49,443.4 467.85,443.4 477.21,436.9 486.57,443.1 495.93,439.4 505.28,433.9 514.64,440.4 524,439 533.36,432.7 542.72,433.5 552.08,421.9 561.44,423.9 570.8,393.8 580.15,422.7 589.51,407.1 598.87,388.3 608.23,409.6 617.59,378.7 626.95,420.2 636.31,439.7 645.66,440.2 655.02,439 664.38,440.2 673.74,437"/>
<rect x="400.29" y="441.35" width="4.1" height="4.1" class="bm"/>
<rect x="409.65" y="441.35" width="4.1" height="4.1" class="bm"/>
<rect x="419.01" y="441.35" width="4.1" height="4.1" class="bm"/>
<rect x="428.37" y="441.35" width="4.1" height="4.1" class="bm"/>
<rect x="437.72" y="441.35" width="4.1" height="4.1" class="bm"/>
<rect x="447.08" y="441.35" width="4.1" height="4.1" class="bm"/>
<rect x="456.44" y="441.35" width="4.1" height="4.1" class="bm"/>
<rect x="465.8" y="441.35" width="4.1" height="4.1" class="bm"/>
<rect x="475.16" y="434.85" width="4.1" height="4.1" class="bm"/>
<rect x="484.52" y="441.05" width="4.1" height="4.1" class="bm"/>
<rect x="493.88" y="437.35" width="4.1" height="4.1" class="bm"/>
<rect x="503.23" y="431.85" width="4.1" height="4.1" class="bm"/>
<rect x="512.59" y="438.35" width="4.1" height="4.1" class="bm"/>
<rect x="521.95" y="436.95" width="4.1" height="4.1" class="bm"/>
<rect x="531.31" y="430.65" width="4.1" height="4.1" class="bm"/>
<rect x="540.67" y="431.45" width="4.1" height="4.1" class="bm"/>
<rect x="550.03" y="419.85" width="4.1" height="4.1" class="bm"/>
<rect x="559.39" y="421.85" width="4.1" height="4.1" class="bm"/>
<rect x="568.75" y="391.75" width="4.1" height="4.1" class="bm"/>
<rect x="578.1" y="420.65" width="4.1" height="4.1" class="bm"/>
<rect x="587.46" y="405.05" width="4.1" height="4.1" class="bm"/>
<rect x="596.82" y="386.25" width="4.1" height="4.1" class="bm"/>
<rect x="606.18" y="407.55" width="4.1" height="4.1" class="bm"/>
<rect x="615.54" y="376.65" width="4.1" height="4.1" class="bm"/>
<rect x="624.9" y="418.15" width="4.1" height="4.1" class="bm"/>
<rect x="634.26" y="437.65" width="4.1" height="4.1" class="bm"/>
<rect x="643.61" y="438.15" width="4.1" height="4.1" class="bm"/>
<rect x="652.97" y="436.95" width="4.1" height="4.1" class="bm"/>
<rect x="662.33" y="438.15" width="4.1" height="4.1" class="bm"/>
<rect x="671.69" y="434.95" width="4.1" height="4.1" class="bm"/>
<rect x="397.66" y="332.15" width="280.76" height="116.3" class="fr"/>
<line x1="402.34" y1="448.45" x2="402.34" y2="450.35" class="tk"/>
<line x1="411.7" y1="448.45" x2="411.7" y2="450.35" class="tk"/>
<line x1="421.06" y1="448.45" x2="421.06" y2="450.35" class="tk"/>
<line x1="430.42" y1="448.45" x2="430.42" y2="450.35" class="tk"/>
<line x1="439.77" y1="448.45" x2="439.77" y2="450.35" class="tk"/>
<line x1="449.13" y1="448.45" x2="449.13" y2="450.35" class="tk"/>
<line x1="458.49" y1="448.45" x2="458.49" y2="450.35" class="tk"/>
<line x1="467.85" y1="448.45" x2="467.85" y2="450.35" class="tk"/>
<line x1="477.21" y1="448.45" x2="477.21" y2="450.35" class="tk"/>
<line x1="486.57" y1="448.45" x2="486.57" y2="450.35" class="tk"/>
<line x1="495.93" y1="448.45" x2="495.93" y2="450.35" class="tk"/>
<line x1="505.28" y1="448.45" x2="505.28" y2="450.35" class="tk"/>
<line x1="514.64" y1="448.45" x2="514.64" y2="450.35" class="tk"/>
<line x1="524" y1="448.45" x2="524" y2="450.35" class="tk"/>
<line x1="533.36" y1="448.45" x2="533.36" y2="450.35" class="tk"/>
<line x1="542.72" y1="448.45" x2="542.72" y2="450.35" class="tk"/>
<line x1="552.08" y1="448.45" x2="552.08" y2="450.35" class="tk"/>
<line x1="561.44" y1="448.45" x2="561.44" y2="450.35" class="tk"/>
<line x1="570.8" y1="448.45" x2="570.8" y2="450.35" class="tk"/>
<line x1="580.15" y1="448.45" x2="580.15" y2="450.35" class="tk"/>
<line x1="589.51" y1="448.45" x2="589.51" y2="450.35" class="tk"/>
<line x1="598.87" y1="448.45" x2="598.87" y2="450.35" class="tk"/>
<line x1="608.23" y1="448.45" x2="608.23" y2="450.35" class="tk"/>
<line x1="617.59" y1="448.45" x2="617.59" y2="450.35" class="tk"/>
<line x1="626.95" y1="448.45" x2="626.95" y2="450.35" class="tk"/>
<line x1="636.31" y1="448.45" x2="636.31" y2="450.35" class="tk"/>
<line x1="645.66" y1="448.45" x2="645.66" y2="450.35" class="tk"/>
<line x1="655.02" y1="448.45" x2="655.02" y2="450.35" class="tk"/>
<line x1="664.38" y1="448.45" x2="664.38" y2="450.35" class="tk"/>
<line x1="673.74" y1="448.45" x2="673.74" y2="450.35" class="tk"/>
<text transform="translate(402.34,459.05) skewY(.04)" class="xt">0</text>
<text transform="translate(421.06,459.05) skewY(.04)" class="xt">14</text>
<text transform="translate(439.77,459.05) skewY(.04)" class="xt">24</text>
<text transform="translate(458.49,459.05) skewY(.04)" class="xt">31</text>
<text transform="translate(477.21,459.05) skewY(.04)" class="xt">38</text>
<text transform="translate(495.93,459.05) skewY(.04)" class="xt">45</text>
<text transform="translate(514.64,459.05) skewY(.04)" class="xt">52</text>
<text transform="translate(533.36,459.05) skewY(.04)" class="xt">59</text>
<text transform="translate(552.08,459.05) skewY(.04)" class="xt">66</text>
<text transform="translate(570.8,459.05) skewY(.04)" class="xt">73</text>
<text transform="translate(589.51,459.05) skewY(.04)" class="xt">80</text>
<text transform="translate(608.23,459.05) skewY(.04)" class="xt">87</text>
<text transform="translate(626.95,459.05) skewY(.04)" class="xt">94</text>
<text transform="translate(645.66,459.05) skewY(.04)" class="xt">101</text>
<text transform="translate(664.38,459.05) skewY(.04)" class="xt">108</text>
<line x1="395.76" y1="443.5" x2="397.66" y2="443.5" class="tk"/>
<text transform="translate(393.06,446.65) skewY(.04)" class="yt">0.0e+00</text>
<line x1="395.76" y1="418.55" x2="397.66" y2="418.55" class="tk"/>
<text transform="translate(393.06,421.7) skewY(.04)" class="yt">2.0e+06</text>
<line x1="395.76" y1="393.6" x2="397.66" y2="393.6" class="tk"/>
<text transform="translate(393.06,396.75) skewY(.04)" class="yt">4.0e+06</text>
<line x1="395.76" y1="368.65" x2="397.66" y2="368.65" class="tk"/>
<text transform="translate(393.06,371.8) skewY(.04)" class="yt">6.0e+06</text>
<line x1="395.76" y1="343.7" x2="397.66" y2="343.7" class="tk"/>
<text transform="translate(393.06,346.85) skewY(.04)" class="yt">8.0e+06</text>
<text transform="translate(538.04,329.3) skewY(.04)" class="ti"><tspan class="it">Syntrophococcus sp.</tspan> <tspan dx="0.4">ASCUSBF60</tspan></text>
<text transform="translate(538.04,470.05) skewY(.04)" class="xl">Days in Study</text>
<text transform="translate(352.6,390.3) rotate(-90) skewY(.04)" class="yl">Cells / mL</text>
<rect x="623.82" y="336.25" width="50.8" height="27.6" rx="1.6" class="lg"/>
<circle cx="635.62" cy="343.9" r="1.95" class="gm"/>
<rect x="633.67" y="354.4" width="3.9" height="3.9" class="bm"/>
<text transform="translate(651.02,346.4) skewY(.04)" class="lt">CON</text>
<text transform="translate(651.02,358.6) skewY(.04)" class="lt">NRM</text>
<text transform="translate(589.41,359) skewY(.04)" class="st">*</text>
</g>
</svg>
</body>
</html>
